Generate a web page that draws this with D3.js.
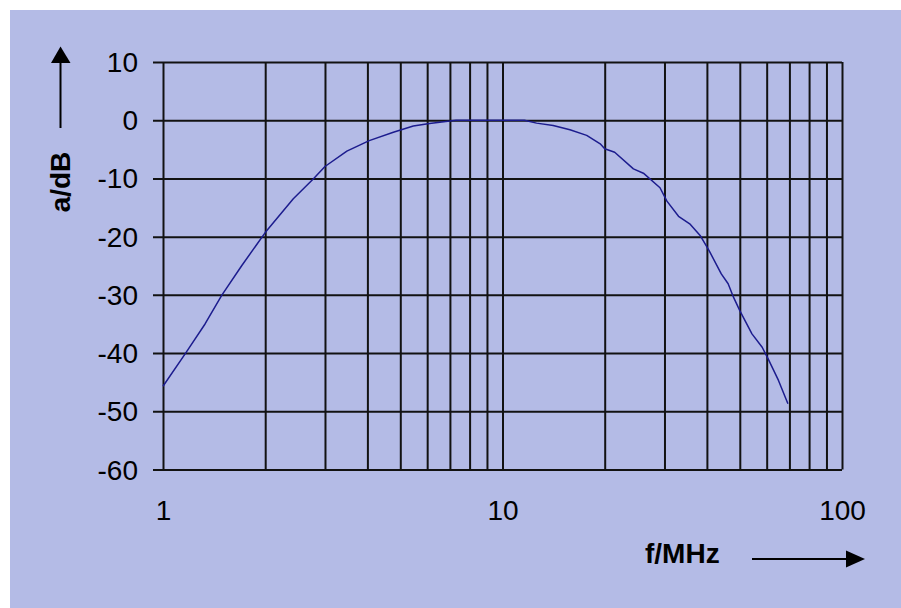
<!DOCTYPE html>
<html>
<head>
<meta charset="utf-8">
<script src="https://cdn.jsdelivr.net/npm/d3@7"></script>
<style>
  html, body { margin: 0; padding: 0; background: #ffffff; }
  svg { display: block; }
  text { font-family: "Liberation Sans", Arial, sans-serif; }
</style>
</head>
<body>
<svg id="chart" width="901" height="608"></svg>
<script>
// Frequency response of the filter (attenuation over frequency)
const freqMHz = [1.0, 1.166, 1.33, 1.489, 1.705, 2.0, 2.42, 2.77, 3.0, 3.48, 4.05, 4.77,
  5.46, 6.1, 7.0, 7.3, 11.6, 12.6, 14.1, 15.8, 17.7, 19.4, 20.0, 21.4, 24.3, 26.0, 29.1,
  30.5, 33.0, 35.6, 38.2, 40.6, 44.1, 46.2, 47.9, 50.0, 54.3, 58.2, 60.6, 65.0, 69.3];
const attenDB = [-45.7, -40.0, -35.0, -30.1, -25.0, -19.3, -13.5, -10.1, -7.95, -5.3, -3.5, -2.06,
  -1.0, -0.55, -0.15, 0, 0, -0.5, -0.9, -1.65, -2.6, -4.05, -4.9, -5.5, -8.35, -9.1, -11.6,
  -13.9, -16.5, -17.8, -19.8, -22.4, -26.4, -28.1, -30.4, -32.7, -36.7, -39.0, -41.0, -44.7, -48.7];

// Axis ticks
const yTicks = [10, 0, -10, -20, -30, -40, -50, -60];
const xGrid = [1, 2, 3, 4, 5, 6, 7, 8, 9, 10, 20, 30, 40, 50, 60, 70, 80, 90, 100];
const xLabels = [1, 10, 100];

const svg = d3.select("#chart");
const bg = "#b4bbe6";

svg.append("rect")
  .attr("x", 10).attr("y", 10)
  .attr("width", 891).attr("height", 598)
  .attr("fill", bg);

const plot = { left: 163, right: 842, top: 62, bottom: 469.5 };

const x = d3.scaleLog().domain([1, 100]).range([plot.left, plot.right]);
const y = d3.scaleLinear().domain([-60, 10]).range([plot.bottom, plot.top]);

const gridColor = "#121212";
const fontSize = 28;

// Horizontal grid with tick stubs to the left and value labels
const yAxis = d3.axisLeft(y)
  .tickValues(yTicks)
  .tickSize(plot.right - plot.left + 10)
  .tickPadding(15)
  .tickFormat(d => String(d));

const gy = svg.append("g")
  .attr("transform", `translate(${plot.right},0)`)
  .call(yAxis);
gy.select(".domain").remove();
gy.selectAll(".tick line").attr("stroke", gridColor).attr("stroke-width", 2);
gy.selectAll(".tick text")
  .attr("fill", "#000")
  .attr("font-size", fontSize)
  .attr("font-family", "Liberation Sans, Arial, sans-serif")
  .attr("dy", "0.34em");

// Vertical logarithmic grid, labelled at the decades
const xAxis = d3.axisBottom(x)
  .tickValues(xGrid)
  .tickSize(-(plot.bottom - plot.top))
  .tickPadding(31)
  .tickFormat(d => xLabels.includes(d) ? String(d) : "");

const gx = svg.append("g")
  .attr("transform", `translate(0,${plot.bottom})`)
  .call(xAxis);
gx.select(".domain").remove();
gx.selectAll(".tick line").attr("stroke", gridColor).attr("stroke-width", 2);
gx.selectAll(".tick text")
  .attr("fill", "#000")
  .attr("font-size", fontSize)
  .attr("font-family", "Liberation Sans, Arial, sans-serif");

// Response curve
const line = d3.line()
  .x((d, i) => x(freqMHz[i]))
  .y(d => y(d));

svg.append("path")
  .datum(attenDB)
  .attr("d", line)
  .attr("fill", "none")
  .attr("stroke", "#1c1c8e")
  .attr("stroke-width", 1.5)
  .attr("stroke-linejoin", "round");

// Y axis title with upward arrow
svg.append("text")
  .attr("transform", "translate(70,182) rotate(-90)")
  .attr("text-anchor", "middle")
  .attr("font-size", fontSize)
  .attr("font-weight", "bold")
  .attr("fill", "#000")
  .text("a/dB");

svg.append("line")
  .attr("x1", 60.5).attr("x2", 60.5)
  .attr("y1", 128).attr("y2", 60)
  .attr("stroke", "#000").attr("stroke-width", 2);
svg.append("path")
  .attr("d", "M51,63 L70.5,63 L60.5,46.5 Z")
  .attr("fill", "#000");

// X axis title with rightward arrow
svg.append("text")
  .attr("x", 645).attr("y", 563)
  .attr("font-size", fontSize)
  .attr("font-weight", "bold")
  .attr("fill", "#000")
  .text("f/MHz");

svg.append("line")
  .attr("x1", 752).attr("x2", 848)
  .attr("y1", 559).attr("y2", 559)
  .attr("stroke", "#000").attr("stroke-width", 2);
svg.append("path")
  .attr("d", "M846,550.5 L846,567.5 L865,559 Z")
  .attr("fill", "#000");
</script>
</body>
</html>
